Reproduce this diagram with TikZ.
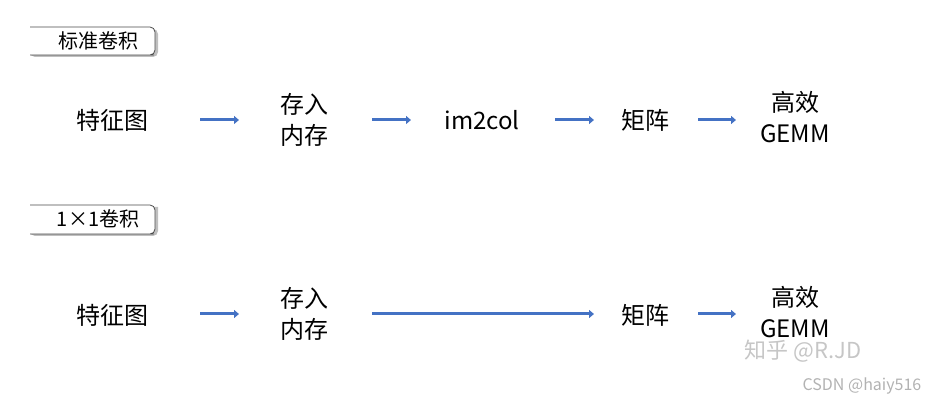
\documentclass[tikz,border=0pt]{standalone}
\usepackage{fontspec}
\setmainfont{Noto Sans CJK SC}
\usetikzlibrary{arrows.meta,shadows}
\definecolor{ablue}{HTML}{4472C4}
\begin{document}
\begin{tikzpicture}[x=1pt,y=-1pt,
  lbl/.style={font=\fontsize{24}{31}\selectfont, align=center, inner sep=0pt},
  arr/.style={draw=ablue, line width=3pt, -{Triangle[length=5pt,width=8pt]}},
  tagbox/.style={draw=black!70, line width=0.8pt, fill=white, rounded corners=5pt}]
\useasboundingbox (0,0) rectangle (929,403);
% tags
\fill[gray!50] (30,29) -- (152,29) [rounded corners=5pt] -- (158,29) -- (158,57) -- (30,57) -- cycle;
\draw[tagbox] (30,27) [sharp corners]-- (149,27) [rounded corners=5pt] -- (155,27) -- (155,55) -- (149,55) [sharp corners] -- (30,55);
\node[font=\fontsize{20}{22}\selectfont] (t1) at (98,41) {标准卷积};
\fill[gray!50] (30,207) -- (158,207) [rounded corners=5pt] -- (158,236) -- (30,236) -- cycle;
\draw[tagbox] (30,205) [sharp corners]-- (149,205) [rounded corners=5pt] -- (155,205) -- (155,234) -- (149,234) [sharp corners] -- (30,234);
\node[font=\fontsize{20}{22}\selectfont] (t2) at (98,219) {1×1卷积};
% row 1
\node[lbl] (a1) at (112,120) {特征图};
\node[lbl] (b1) at (304,120) {存入\\内存};
\node[lbl] (c1) at (482,120) {im2col};
\node[lbl] (d1) at (645,120) {矩阵};
\node[lbl] (e1) at (795,117) {高效\\GEMM};
\draw[arr] (200,120) -- (239,120);
\draw[arr] (372,120) -- (411,120);
\draw[arr] (555,120) -- (594,120);
\draw[arr] (698,120) -- (736,120);
% row 2
\node[lbl] (a2) at (112,315) {特征图};
\node[lbl] (b2) at (304,314) {存入\\内存};
\node[lbl] (d2) at (645,315) {矩阵};
\node[lbl] (e2) at (795,312) {高效\\GEMM};
\draw[arr] (200,314) -- (239,314);
\draw[arr] (372,314) -- (594,314);
\draw[arr] (698,314) -- (736,314);
% watermarks
\node[font=\fontsize{22}{24}\selectfont, text=gray!45] (w1) at (803,351) {知乎 @R.JD};
\node[font=\fontsize{16}{18}\selectfont, text=gray!60] (w2) at (862,386) {CSDN @haiy516};
\end{tikzpicture}
\end{document}
